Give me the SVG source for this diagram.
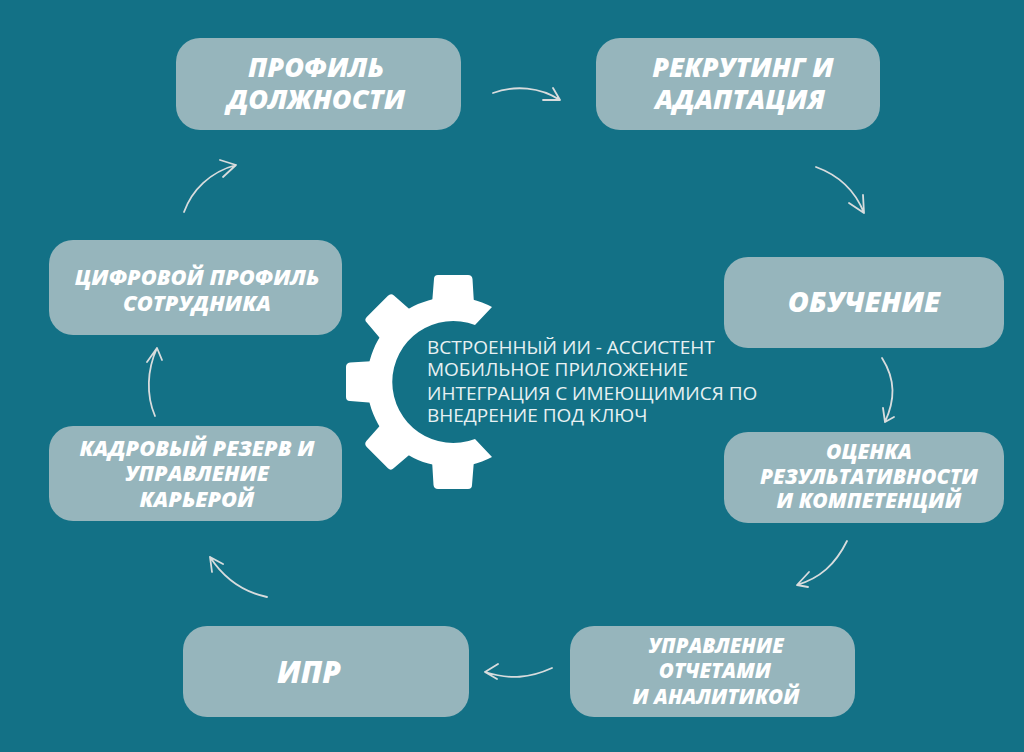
<svg xmlns="http://www.w3.org/2000/svg" xmlns:xlink="http://www.w3.org/1999/xlink" width="1024" height="752" viewBox="0 0 1024 752">
<style>
.box{fill:#96b5bc}
.t{font-family:"Open Sans","Liberation Sans",sans-serif;font-weight:800;font-style:italic;fill:#fff;text-anchor:middle}
.c{font-family:"Open Sans","Liberation Sans",sans-serif;font-size:19px;fill:#e8f1f3}
.a{fill:none;stroke:#d8dcdd;stroke-width:1.8;stroke-linecap:round;stroke-linejoin:round}
</style>
<defs>
<path id="tooth" d="M-21,-78L-19,-103Q-19,-107 -15,-107L15,-107Q19,-107 19.500,-103L21,-78Z" fill="#fff"/>
</defs>
<rect width="1024" height="752" fill="#137186"/>
<g id="connectors">
<path class="a" d="M493,93C515,85 540,87 560,100M553,88L560,100L543,100"/>
<path class="a" d="M816,167C838,175 855,190 864,213M863,195L864,213L849,203"/>
<path class="a" d="M882,358C896,380 895,400 885,422M894,417L885,422L883,408"/>
<path class="a" d="M847,541C835,565 820,578 797,585M809,572L797,585L808,587"/>
<path class="a" d="M552,668C530,678 510,680 485,672M498,664L485,672L497,679"/>
<path class="a" d="M267,597C243,592 225,580 210,557M212,572L210,557L223,564"/>
<path class="a" d="M155,416C146,395 147,370 157,348M147,362L157,348L162,360"/>
<path class="a" d="M184,212C192,190 210,172 236,165M220,160L236,165L223,177"/>
</g>
<g id="node-profile"><rect class="box" x="176" y="38" width="285" height="92" rx="24"/>
<text class="t" font-size="27" x="316" y="77">ПРОФИЛЬ</text><text class="t" font-size="27" x="316" y="109">ДОЛЖНОСТИ</text></g>
<g id="node-recruiting"><rect class="box" x="596" y="38" width="284" height="92" rx="24"/>
<text class="t" font-size="27" x="743" y="77">РЕКРУТИНГ И</text><text class="t" font-size="27" x="740" y="109">АДАПТАЦИЯ</text></g>
<g id="node-training"><rect class="box" x="724" y="257" width="280" height="91" rx="24"/>
<text class="t" font-size="28.800" x="864" y="312">ОБУЧЕНИЕ</text></g>
<g id="node-assessment"><rect class="box" x="724" y="432" width="280" height="91" rx="24"/>
<text class="t" font-size="21" x="869" y="459">ОЦЕНКА</text><text class="t" font-size="21" x="869" y="484">РЕЗУЛЬТАТИВНОСТИ</text><text class="t" font-size="21" x="869" y="508">И КОМПЕТЕНЦИЙ</text></g>
<g id="node-reports"><rect class="box" x="570" y="626" width="285" height="91" rx="24"/>
<text class="t" font-size="20.500" x="716" y="653">УПРАВЛЕНИЕ</text><text class="t" font-size="20.500" x="715" y="678">ОТЧЕТАМИ</text><text class="t" font-size="20.500" x="716" y="704">И АНАЛИТИКОЙ</text></g>
<g id="node-ipr"><rect class="box" x="183" y="626" width="286" height="91" rx="24"/>
<text class="t" font-size="30" x="309" y="683">ИПР</text></g>
<g id="node-reserve"><rect class="box" x="49" y="426" width="293" height="95" rx="24"/>
<text class="t" font-size="21.800" x="197" y="456">КАДРОВЫЙ РЕЗЕРВ И</text><text class="t" font-size="21.800" x="197" y="481">УПРАВЛЕНИЕ</text><text class="t" font-size="21.800" x="197" y="507">КАРЬЕРОЙ</text></g>
<g id="node-digital"><rect class="box" x="49" y="240" width="293" height="95" rx="24"/>
<text class="t" font-size="21.800" x="197" y="285">ЦИФРОВОЙ ПРОФИЛЬ</text><text class="t" font-size="21.800" x="197" y="311">СОТРУДНИКА</text></g>
<g id="node-center">
<path fill="#fff" d="M492,307A85,85 0 1 0 492,457L475,439A61,61 0 1 1 475,325Z"/>
<use xlink:href="#tooth" href="#tooth" transform="translate(453,382)"/>
<use xlink:href="#tooth" href="#tooth" transform="translate(453,382) rotate(-45)"/>
<use xlink:href="#tooth" href="#tooth" transform="translate(453,382) rotate(-90)"/>
<use xlink:href="#tooth" href="#tooth" transform="translate(453,382) rotate(-135)"/>
<use xlink:href="#tooth" href="#tooth" transform="translate(453,382) rotate(180)"/>
<text class="c" x="427" y="354">ВСТРОЕННЫЙ ИИ - АССИСТЕНТ</text>
<text class="c" x="427" y="376">МОБИЛЬНОЕ ПРИЛОЖЕНИЕ</text>
<text class="c" x="427" y="400">ИНТЕГРАЦИЯ С ИМЕЮЩИМИСЯ ПО</text>
<text class="c" x="427" y="422">ВНЕДРЕНИЕ ПОД КЛЮЧ</text>
</g>
</svg>
